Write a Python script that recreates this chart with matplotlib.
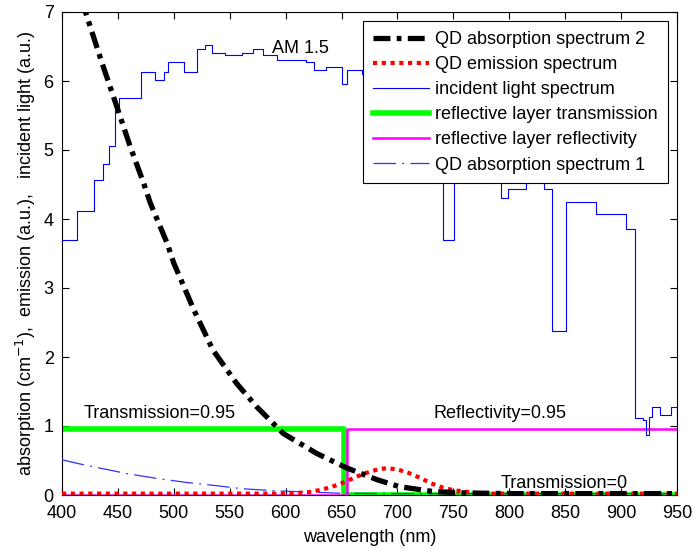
#!/usr/bin/env python3
# -*- coding: utf-8 -*-
"""QD absorption / emission vs. incident AM 1.5 light and reflective layer."""
import matplotlib
matplotlib.use("Agg")
import matplotlib.pyplot as plt  # type: ignore

# -- Data ------------------------------------------------------------------
# incident light spectrum (AM 1.5), step edges in nm and levels
am15_nm = [400, 413, 429, 437, 442, 447, 451, 471, 483, 491, 495, 509, 521,
           528, 534, 546, 561, 571, 580, 592, 618, 625, 636, 650, 655, 668,
           690, 712, 728, 741, 751, 772, 793, 799, 815, 831, 838, 851, 878,
           904, 912, 920, 922, 925, 928, 935, 945, 950]
am15_val = [3.70, 4.11, 4.56, 4.79, 5.06, 5.58, 5.75, 6.13, 6.02, 6.13, 6.27,
            6.13, 6.47, 6.52, 6.41, 6.37, 6.41, 6.47, 6.37, 6.30, 6.27, 6.16,
            6.20, 5.95, 6.16, 6.10, 5.85, 5.40, 5.05, 3.69, 4.85, 4.65, 4.30,
            4.44, 4.60, 4.44, 2.37, 4.24, 4.07, 3.86, 1.11, 1.09, 0.87, 1.13,
            1.27, 1.16, 1.27, 0.0]

# QD absorption spectrum 2
abs2_nm = [410, 421, 435, 449, 461, 473, 479, 494, 500, 518, 535, 556, 574,
           598, 628, 655, 682, 702, 732, 760, 800, 950]
abs2_val = [7.75, 7.00, 6.30, 5.63, 5.05, 4.52, 4.23, 3.65, 3.36, 2.68, 2.10,
            1.62, 1.28, 0.89, 0.60, 0.39, 0.22, 0.12, 0.05, 0.03, 0.02, 0.02]

# QD emission spectrum
em_nm = [400, 600, 610, 620, 630, 640, 650, 660, 670, 680, 690, 700, 710,
         720, 730, 740, 750, 760, 770, 780, 950]
em_val = [0.02, 0.02, 0.03, 0.04, 0.07, 0.11, 0.17, 0.24, 0.31, 0.36, 0.39,
          0.37, 0.32, 0.25, 0.17, 0.11, 0.07, 0.05, 0.03, 0.02, 0.02]

# QD absorption spectrum 1
abs1_nm = [400, 416, 434, 458, 485, 512, 538, 562, 592, 625, 649, 700, 950]
abs1_val = [0.51, 0.45, 0.39, 0.31, 0.24, 0.18, 0.135, 0.09, 0.06, 0.04,
            0.025, 0.02, 0.02]

# reflective layer
trans_nm = [400, 652, 652, 950]
trans_val = [0.95, 0.95, 0.0, 0.0]
refl_nm = [400, 655, 655, 950]
refl_val = [0.0, 0.0, 0.95, 0.95]

FONT = ["Liberation Sans", "DejaVu Sans"]
FS = 13


def main():
    plt.rcParams["font.family"] = FONT
    plt.rcParams["font.size"] = FS

    fig = plt.figure(figsize=(6.93, 5.50), dpi=100)
    ax = fig.add_axes([62 / 693, 1 - 495 / 550, 615 / 693, 483 / 550])

    ax.plot(abs2_nm, abs2_val, color="black", lw=3.8,
            dashes=(3.2, 1.2, 0.9, 1.2), label="QD absorption spectrum 2",
            zorder=6)
    ax.plot(em_nm, em_val, color="red", lw=3.0, dashes=(1.0, 1.1),
            label="QD emission spectrum", zorder=5)
    ax.step(am15_nm, am15_val, where="post", color="#0000ff", lw=0.8,
            label="incident light spectrum", zorder=4)
    ax.plot(trans_nm, trans_val, color="#00ff00", lw=4.0,
            label="reflective layer transmission", zorder=2)
    ax.plot(refl_nm, refl_val, color="#ff00ff", lw=1.8,
            label="reflective layer reflectivity", zorder=3)
    ax.plot(abs1_nm, abs1_val, color="#3030ff", lw=0.9,
            dashes=(18, 5, 1.5, 5), label="QD absorption spectrum 1", zorder=4)

    # -- annotations ---------------------------------------------------------
    ax.text(588, 6.47, "AM 1.5", ha="left", va="center", fontsize=FS)
    ax.text(419, 1.18, "Transmission=0.95", ha="left", va="center", fontsize=FS)
    ax.text(732, 1.18, "Reflectivity=0.95", ha="left", va="center", fontsize=FS)
    ax.text(792, 0.17, "Transmission=0", ha="left", va="center", fontsize=FS)

    # -- axes ------------------------------------------------------------------
    ax.set_xlim(400, 950)
    ax.set_ylim(0, 7)
    ax.set_xticks(range(400, 951, 50))
    ax.set_yticks(range(0, 8))
    ax.tick_params(direction="in", length=5, width=0.8, top=True, right=True,
                   labelsize=FS)
    ax.tick_params(axis="x", pad=7)
    ax.tick_params(axis="y", pad=6)
    for s in ax.spines.values():
        s.set_linewidth(0.8)

    ax.set_xlabel("wavelength (nm)", fontsize=FS, labelpad=5)
    ax.set_ylabel("absorption (cm$^{-1}$),  emission (a.u.),   incident light (a.u.)",
                  fontsize=FS, labelpad=4)

    leg = ax.legend(loc="upper right", bbox_to_anchor=(0.9854, 0.9814),
                    borderaxespad=0, fancybox=False, edgecolor="black",
                    framealpha=1, handlelength=3.1, handletextpad=0.37,
                    labelspacing=0.45, borderpad=0.55, fontsize=FS)
    leg.get_frame().set_linewidth(0.8)

    fig.savefig("out.png", dpi=100)


if __name__ == "__main__":
    main()
